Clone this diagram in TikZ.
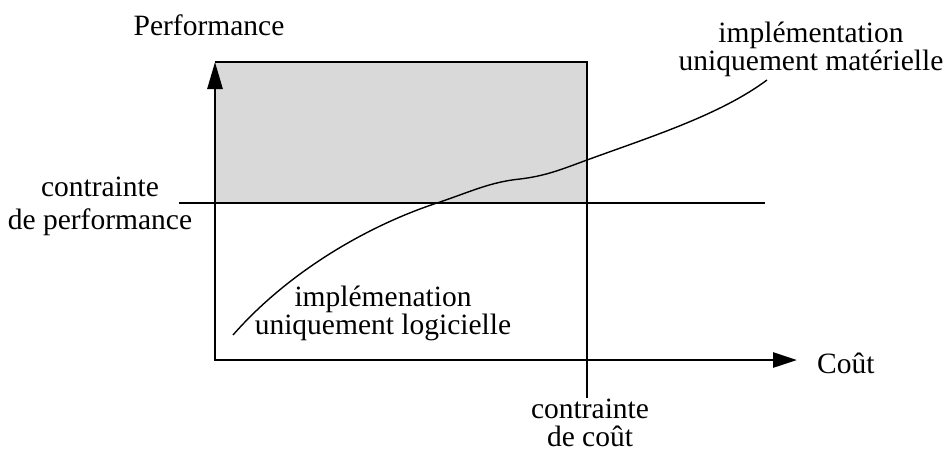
\documentclass[tikz,border=0pt]{standalone}
\usepackage{fontspec}
\setmainfont{Liberation Serif}
\usetikzlibrary{arrows.meta}
\definecolor{zone}{RGB}{217,217,217}
\begin{document}
\begin{tikzpicture}[x=1pt,y=-1pt,
  lbl/.style={font=\fontsize{29.5}{26}\selectfont, align=center, inner sep=0pt, anchor=base},
  axisline/.style={line width=2.8pt, {Triangle[length=27pt,width=15pt]}-{Triangle[length=24pt,width=15pt]}},
  thinline/.style={line width=1.3pt},
  curveline/.style={line width=1.4pt}]
\useasboundingbox (0,0) rectangle (951,453);
% labels (base = baseline of the last line)
\node[lbl] (perf) at (209,35) {Performance};
\node[lbl, font=\fontsize{29.5}{33}\selectfont] (cperf) at (100,229) {contrainte\\de performance};
\node[lbl] (logi) at (383,334) {implémenation\\uniquement logicielle};
\node[lbl] (mat) at (811,70) {implémentation\\uniquement matérielle};
\node[lbl, anchor=base west] (cout) at (817,373) {Coût};
\node[lbl, font=\fontsize{29.5}{28}\selectfont] (ccout) at (590,446) {contrainte\\de coût};
% key points
\coordinate (ytop) at (215,62);
\coordinate (orig) at (215,360);
\coordinate (xend) at (797,360);
\coordinate (rtop) at (587,62);
\coordinate (pl) at (179,203);
\coordinate (pr) at (765,203);
\coordinate (c0) at (233,335);
\coordinate (c1) at (437,203);
\coordinate (c2) at (520,179);
\coordinate (c3) at (587,160);
\coordinate (c4) at (767,80);
% shaded feasible zone
\fill[zone] (ytop) rectangle (587,203);
\draw[thinline] (ytop) -- (rtop) -- (rtop |- ccout.north);
\draw[thinline] (pl) -- (pr);
% curve
\draw[curveline] (c0) .. controls (290,270) and (370,225) .. (c1)
  .. controls (470,192) and (490,182) .. (c2)
  .. controls (545,176) and (560,170) .. (c3)
  .. controls (650,137) and (720,115) .. (c4);
% axes
\draw[axisline] (ytop) -- (orig) -- (xend);
\end{tikzpicture}
\end{document}
